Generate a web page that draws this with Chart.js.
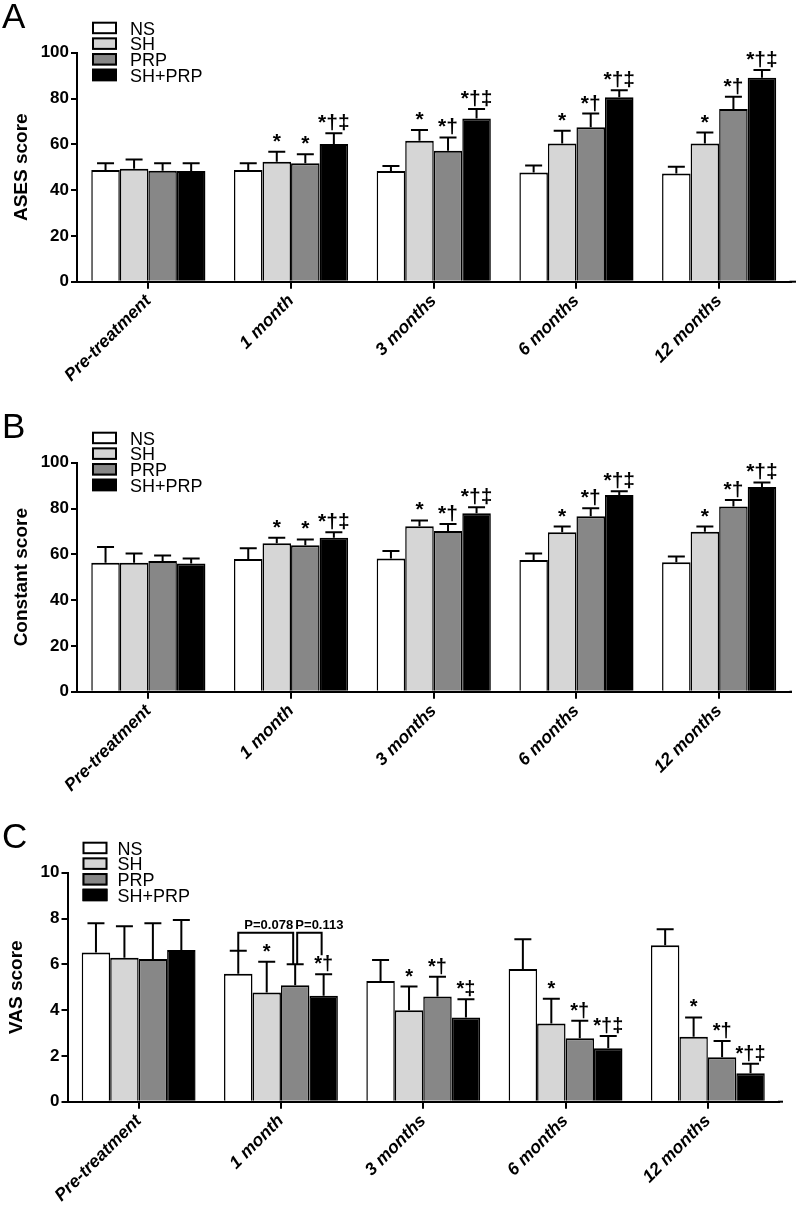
<!DOCTYPE html>
<html lang="en">
<head>
<meta charset="UTF-8" />
<title>ASES, Constant and VAS scores</title>
<script src="https://cdn.jsdelivr.net/npm/chart.js"></script>
<style>
  html, body { margin: 0; padding: 0; background: #fff; }
  body { width: 800px; height: 1208px; position: relative; overflow: hidden; }
  canvas { position: absolute; left: 0; }
  #panelA { top: 0; }
  #panelB { top: 410px; }
  #panelC { top: 820px; }
</style>
</head>
<body>
<canvas id="panelA" width="800" height="410"></canvas>
<canvas id="panelB" width="800" height="410"></canvas>
<canvas id="panelC" width="800" height="388"></canvas>
<script>
  const FONT = "'Liberation Sans', Arial, Helvetica, sans-serif";

  // categories / groups
  const timePoints = ['Pre-treatment', '1 month', '3 months', '6 months', '12 months'];
  const groups = ['NS', 'SH', 'PRP', 'SH+PRP'];
  const groupColors = ['#ffffff', '#d6d6d6', '#878787', '#000000'];

  // A - ASES score (mean and SD)
  const asesNS = [48.8, 48.8, 48.3, 47.7, 47.3];
  const asesSH = [49.3, 52.4, 61.6, 60.4, 60.4];
  const asesPRP = [48.5, 51.7, 57.2, 67.4, 75.4];
  const asesBoth = [48.3, 60.1, 71.3, 80.6, 89.1];
  const asesNSsd = [2.9, 2.9, 2.2, 3.0, 2.9];
  const asesSHsd = [4.1, 4.4, 4.6, 5.5, 4.7];
  const asesPRPsd = [3.2, 4.0, 5.8, 6.0, 5.4];
  const asesBothsd = [3.4, 4.7, 4.1, 3.0, 3.3];

  // B - Constant score
  const constNS = [56.3, 57.9, 58.2, 57.5, 56.5];
  const constSH = [56.3, 64.8, 72.2, 69.6, 69.9];
  const constPRP = [57.1, 64.0, 70.2, 76.6, 80.9];
  const constBoth = [56.0, 67.2, 77.9, 85.9, 89.4];
  const constNSsd = [6.9, 4.7, 3.2, 2.8, 2.5];
  const constSHsd = [4.1, 2.4, 2.6, 2.5, 2.2];
  const constPRPsd = [2.4, 2.5, 3.0, 3.5, 2.8];
  const constBothsd = [2.2, 2.4, 2.6, 1.6, 2.0];

  // C - VAS score
  const vasNS = [6.52, 5.59, 5.27, 5.79, 6.83];
  const vasSH = [6.29, 4.77, 3.99, 3.42, 2.84];
  const vasPRP = [6.23, 5.09, 4.59, 2.77, 1.94];
  const vasBoth = [6.62, 4.63, 3.68, 2.33, 1.24];
  const vasNSsd = [1.27, 1.00, 0.92, 1.30, 0.70];
  const vasSHsd = [1.37, 1.34, 1.04, 1.08, 0.84];
  const vasPRPsd = [1.56, 0.91, 0.87, 0.77, 0.71];
  const vasBothsd = [1.31, 0.94, 0.79, 0.54, 0.42];

  // significance marks
  const noMarks = ['', '', '', '', ''];
  const scoreMarksSH = ['', '*', '*', '*', '*'];
  const scoreMarksPRP = ['', '*', '*\u2020', '*\u2020', '*\u2020'];
  const scoreMarksBoth = ['', '*\u2020\u2021', '*\u2020\u2021', '*\u2020\u2021', '*\u2020\u2021'];
  const vasMarksSH = ['', '*', '*', '*', '*'];
  const vasMarksPRP = ['', '', '*\u2020', '*\u2020', '*\u2020'];
  const vasMarksBoth = ['', '*\u2020', '*\u2021', '*\u2020\u2021', '*\u2020\u2021'];

  // 1-month comparison brackets in panel C
  const vasBrackets = [
    { cat: 1, from: 0, to: 2, level: 7.38, label: 'P=0.078', dxFrom: 0, dxTo: -2, dxLabel: 3 },
    { cat: 1, from: 2, to: 3, level: 7.38, label: 'P=0.113', dxFrom: 2, dxTo: -2, endTo: 6.40, dxLabel: 10 }
  ];

  Chart.defaults.font.family = FONT;
  Chart.defaults.color = '#000';

  // error bars, marks, brackets, legend and panel letter
  const panelExtras = {
    id: 'panelExtras',
    afterDatasetsDraw(chart, args, o) {
      const ctx = chart.ctx;
      const ys = chart.scales.y;
      ctx.save();
      ctx.strokeStyle = '#000';
      ctx.fillStyle = '#000';
      ctx.lineWidth = 2;
      ctx.textAlign = 'center';
      ctx.textBaseline = 'alphabetic';
      chart.data.datasets.forEach((ds, i) => {
        chart.getDatasetMeta(i).data.forEach((bar, j) => {
          const top = ys.getPixelForValue(ds.data[j] + ds.sd[j]);
          ctx.beginPath();
          ctx.moveTo(bar.x, bar.y);
          ctx.lineTo(bar.x, top);
          ctx.moveTo(bar.x - 8.5, top);
          ctx.lineTo(bar.x + 8.5, top);
          ctx.stroke();
          if (ds.marks[j]) {
            ctx.font = 'bold ' + o.markSize + 'px ' + FONT;
            ctx.fillText(ds.marks[j], bar.x, top - 4);
          }
        });
      });
      (o.brackets || []).forEach(b => {
        const dsA = chart.data.datasets[b.from];
        const dsB = chart.data.datasets[b.to];
        const xa = chart.getDatasetMeta(b.from).data[b.cat].x + b.dxFrom;
        const xb = chart.getDatasetMeta(b.to).data[b.cat].x + b.dxTo;
        const yl = ys.getPixelForValue(b.level);
        const ya = ys.getPixelForValue(b.endFrom ?? dsA.data[b.cat] + dsA.sd[b.cat]);
        const yb = ys.getPixelForValue(b.endTo ?? dsB.data[b.cat] + dsB.sd[b.cat]);
        ctx.beginPath();
        ctx.moveTo(xa, ya);
        ctx.lineTo(xa, yl);
        ctx.lineTo(xb, yl);
        ctx.lineTo(xb, yb);
        ctx.stroke();
        ctx.font = 'bold 13px ' + FONT;
        ctx.fillText(b.label, (xa + xb) / 2 + b.dxLabel, yl - 4);
      });
      ctx.restore();
    },
    afterDraw(chart, args, o) {
      const ctx = chart.ctx;
      const area = chart.chartArea;
      ctx.save();
      ctx.fillStyle = '#000';
      ctx.strokeStyle = '#000';
      ctx.lineWidth = 2;
      // x axis runs a little past the last group
      ctx.beginPath();
      ctx.moveTo(area.right - 1, area.bottom);
      ctx.lineTo(o.axisEnd, area.bottom);
      ctx.stroke();
      // panel letter
      ctx.font = '35px ' + FONT;
      ctx.textAlign = 'left';
      ctx.textBaseline = 'alphabetic';
      ctx.fillText(o.letter, 2, 28);
      // legend
      ctx.font = '18px ' + FONT;
      chart.data.datasets.forEach((ds, i) => {
        const bx = area.left + 15;
        const by = area.top - 31 + i * 15.67;
        ctx.fillStyle = ds.backgroundColor;
        ctx.fillRect(bx, by, 25, 12.5);
        ctx.strokeRect(bx + 1, by + 1, 23, 10.5);
        ctx.fillStyle = '#000';
        ctx.fillText(ds.label, bx + 25 + o.legendGap, by + 12.8);
      });
      ctx.restore();
    }
  };

  function makePanel(id, opts) {
    const datasets = groups.map((g, i) => ({
      label: g,
      data: opts.means[i],
      sd: opts.sds[i],
      marks: opts.marks[i],
      backgroundColor: groupColors[i],
      borderColor: '#000',
      borderWidth: { top: 2, left: 1.5, right: 1.5, bottom: 0 },
      borderSkipped: false,
      categoryPercentage: 0.8,
      barPercentage: 1.0
    }));
    const canvas = document.getElementById(id);
    return new Chart(canvas, {
      type: 'bar',
      data: { labels: timePoints, datasets },
      plugins: [panelExtras],
      options: {
        responsive: false,
        animation: false,
        layout: { padding: { top: 52.7, left: 0, right: opts.padRight, bottom: 0 } },
        plugins: {
          legend: { display: false },
          tooltip: { enabled: false },
          panelExtras: {
            letter: opts.letter,
            markSize: opts.markSize,
            brackets: opts.brackets,
            axisEnd: opts.axisEnd,
            legendGap: opts.legendGap
          }
        },
        scales: {
          x: {
            afterFit: s => { s.height = canvas.height - 281.7; },
            border: { display: true, color: '#000', width: 2 },
            grid: { display: true, drawOnChartArea: false, drawTicks: true, tickLength: 7, color: '#000', lineWidth: 2, offset: false },
            ticks: {
              autoSkip: false,
              minRotation: 45,
              maxRotation: 45,
              padding: 2,
              color: '#000',
              font: { size: 17.5, weight: 'bold', style: 'italic' }
            }
          },
          y: {
            min: 0,
            max: opts.yMax,
            afterFit: s => { s.width = opts.axisLeft; },
            border: { display: true, color: '#000', width: 2 },
            grid: { display: true, drawOnChartArea: false, drawTicks: true, tickLength: 6, color: '#000', lineWidth: 2 },
            ticks: {
              stepSize: opts.yStep,
              padding: 2,
              color: '#000',
              font: { size: 17, weight: 'bold' }
            },
            title: {
              display: true,
              text: opts.title,
              color: '#000',
              font: { size: 19, weight: 'bold' },
              padding: { top: opts.titlePad, bottom: 0 }
            }
          }
        }
      }
    });
  }

  makePanel('panelA', {
    letter: 'A',
    title: 'ASES score',
    means: [asesNS, asesSH, asesPRP, asesBoth],
    sds: [asesNSsd, asesSHsd, asesPRPsd, asesBothsd],
    marks: [noMarks, scoreMarksSH, scoreMarksPRP, scoreMarksBoth],
    yMax: 100, yStep: 20,
    axisLeft: 77, padRight: 9.5, axisEnd: 796,
    titlePad: 10, markSize: 21, legendGap: 13
  });

  makePanel('panelB', {
    letter: 'B',
    title: 'Constant score',
    means: [constNS, constSH, constPRP, constBoth],
    sds: [constNSsd, constSHsd, constPRPsd, constBothsd],
    marks: [noMarks, scoreMarksSH, scoreMarksPRP, scoreMarksBoth],
    yMax: 100, yStep: 20,
    axisLeft: 77, padRight: 9.5, axisEnd: 792,
    titlePad: 10, markSize: 21, legendGap: 13
  });

  makePanel('panelC', {
    letter: 'C',
    title: 'VAS score',
    means: [vasNS, vasSH, vasPRP, vasBoth],
    sds: [vasNSsd, vasSHsd, vasPRPsd, vasBothsd],
    marks: [noMarks, vasMarksSH, vasMarksPRP, vasMarksBoth],
    brackets: vasBrackets,
    yMax: 10, yStep: 2,
    axisLeft: 67.5, padRight: 21, axisEnd: 783,
    titlePad: 5, markSize: 20, legendGap: 10
  });
</script>
</body>
</html>
